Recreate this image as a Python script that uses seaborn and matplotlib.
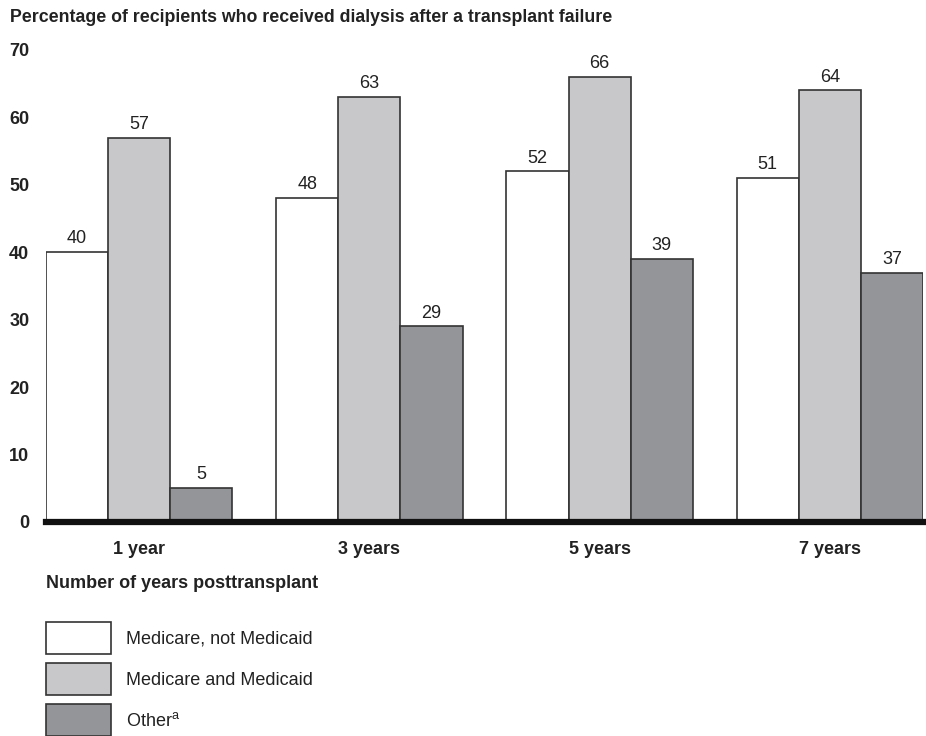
import numpy as np
import pandas as pd
import matplotlib
matplotlib.use("Agg")
import matplotlib.pyplot as plt
import seaborn as sns

years = ["1 year", "3 years", "5 years", "7 years"]
groups = ["Medicare, not Medicaid", "Medicare and Medicaid", "Other$^{\\mathregular{a}}$"]
medicare_only = [40, 48, 52, 51]
medicare_medicaid = [57, 63, 66, 64]
other = [5, 29, 39, 37]
colors = ["#ffffff", "#c8c8ca", "#939598"]

df = pd.DataFrame({
    "years": years * 3,
    "group": [groups[0]] * 4 + [groups[1]] * 4 + [groups[2]] * 4,
    "pct": medicare_only + medicare_medicaid + other,
})

sns.set_style("white")
plt.rcParams["font.family"] = ["Liberation Sans", "DejaVu Sans"]
FS = 13

fig = plt.figure(figsize=(9.26, 7.36), dpi=100)
ax = fig.add_axes([46 / 926, 1 - 522 / 736, 877 / 926, 472 / 736])

sns.barplot(
    data=df, x="years", y="pct", hue="group", hue_order=groups,
    palette=colors, width=0.81, gap=0, edgecolor="#333333", linewidth=1.2,
    saturation=1, ax=ax,
)

for cont in ax.containers:
    ax.bar_label(cont, padding=3.5, fontsize=FS, color="#222222")

ax.set_ylim(0, 70)
ax.set_xlim(-0.405, 3.405)
ax.set_yticks(range(0, 71, 10))
ax.tick_params(axis="both", length=0, labelsize=FS, colors="#222222")
ax.tick_params(axis="y", pad=12)
ax.tick_params(axis="x", pad=14)
for lab in ax.get_xticklabels() + ax.get_yticklabels():
    lab.set_fontweight("bold")
ax.set_xlabel("")
ax.set_ylabel("")
for s in ["top", "right", "left"]:
    ax.spines[s].set_visible(False)
ax.spines["bottom"].set_linewidth(4.5)
ax.spines["bottom"].set_color("#111111")
ax.spines["bottom"].set_zorder(5)

fig.text(10 / 926, 1 - 18 / 736, "Percentage of recipients who received dialysis after a transplant failure",
         fontsize=12.8, fontweight="bold", va="center", ha="left", color="#222222")
fig.text(46 / 926, 1 - 584 / 736, "Number of years posttransplant",
         fontsize=FS, fontweight="bold", va="center", ha="left", color="#222222")

sns.move_legend(
    ax, "upper left", bbox_to_anchor=(46 / 926, 1 - 622 / 736),
    bbox_transform=fig.transFigure, frameon=False, title=None,
    fontsize=FS, handlelength=3.6, handleheight=2.35, labelspacing=0.5,
    handletextpad=0.83, borderpad=0, borderaxespad=0,
)
for t in ax.get_legend().get_texts():
    t.set_color("#222222")

fig.savefig("out.png", dpi=100)
